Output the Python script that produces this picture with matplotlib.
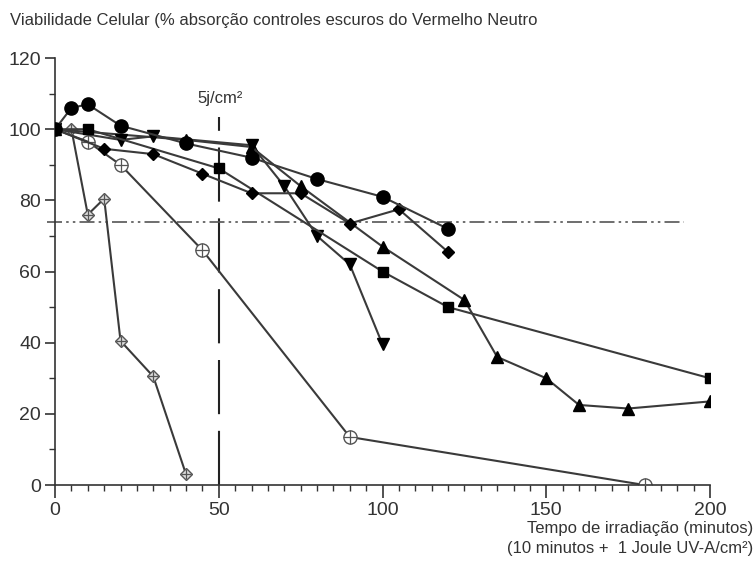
import matplotlib
matplotlib.use("Agg")
import matplotlib.pyplot as plt

plt.rcParams['font.family'] = ['Liberation Sans', 'DejaVu Sans']

# series (minutes, % viability)
circ_x = [0, 5, 10, 20, 40, 60, 80, 100, 120]
circ_y = [100, 106, 107, 101, 96, 92, 86, 81, 72]

sq_x = [0, 10, 50, 100, 120, 200]
sq_y = [100, 100, 89, 60, 50, 30]

tri_up_x = [0, 40, 60, 75, 100, 125, 135, 150, 160, 175, 200]
tri_up_y = [100, 97, 95, 84, 67, 52, 36, 30, 22.5, 21.5, 23.5]

tri_dn_x = [0, 20, 30, 60, 70, 80, 90, 100]
tri_dn_y = [100, 97, 98, 95.5, 84, 70, 62, 39.5]

dia_x = [0, 15, 30, 45, 60, 75, 90, 105, 120]
dia_y = [100, 94.5, 93, 87.5, 82, 82, 73.5, 77.5, 65.5]

ocirc_x = [0, 10, 20, 45, 90, 180]
ocirc_y = [100, 96.5, 90, 66, 13.5, 0]

odia_x = [5, 10, 15, 20, 30, 40]
odia_y = [100, 76, 80.5, 40.5, 30.5, 3]

dose_x = 50
limit_y = 74

line_c = '#3a3a3a'
txt_c = '#333333'

fig = plt.figure(figsize=(7.56, 5.75), dpi=100)
ax = fig.add_axes([0.0728, 0.1565, 0.8664, 0.7425])

# reference lines
ax.plot([dose_x, dose_x], [0, 103.5], color='#222222', lw=1.5, dashes=(26, 8), zorder=1)
ax.plot([-2.5, 192], [limit_y, limit_y], color='#555555', lw=1.2,
        dashes=(9, 2.5, 1.5, 2.5, 1.5, 2.5), clip_on=False, zorder=1)
ax.text(dose_x + 0.5, 108.5, '5j/cm²', ha='center', va='center', fontsize=12, color=txt_c)

# open symbols with a cross inside
ax.plot(ocirc_x[1:], ocirc_y[1:], color=line_c, lw=1.5, marker='o', ms=9.5,
        mfc='white', mec='#555555', mew=1.0, zorder=2)
ax.plot(ocirc_x[:2], ocirc_y[:2], color=line_c, lw=1.5, zorder=2)
ax.plot(ocirc_x[1:], ocirc_y[1:], ls='none', marker='+', ms=9.5, mec='#555555', mew=0.9, zorder=3)

ax.plot(odia_x, odia_y, color=line_c, lw=1.5, marker='D', ms=6.5,
        mfc='#dddddd', mec='#555555', mew=1.0, zorder=2)
ax.plot(odia_x, odia_y, ls='none', marker='+', ms=7, mec='#555555', mew=0.9, zorder=3)

# filled symbols
ax.plot(tri_up_x, tri_up_y, color=line_c, lw=1.5, marker='^', ms=8, mfc='black', mec='black', zorder=4)
ax.plot(tri_dn_x, tri_dn_y, color=line_c, lw=1.5, marker='v', ms=8, mfc='black', mec='black', zorder=4)
ax.plot(sq_x, sq_y, color=line_c, lw=1.5, marker='s', ms=6.5, mfc='black', mec='black', zorder=4)
ax.plot(dia_x, dia_y, color=line_c, lw=1.5, marker='D', ms=6.5, mfc='black', mec='black', zorder=4)
ax.plot(circ_x, circ_y, color=line_c, lw=1.5, marker='o', ms=9.5, mfc='black', mec='black', zorder=5)

ax.set_xlim(0, 200)
ax.set_ylim(0, 120)
ax.set_xticks([0, 50, 100, 150, 200])
ax.set_xticks(range(0, 201, 5), minor=True)
ax.set_yticks([0, 20, 40, 60, 80, 100, 120])
ax.set_yticks(range(0, 121, 10), minor=True)
for s in ['top', 'right']:
    ax.spines[s].set_visible(False)
for s in ['left', 'bottom']:
    ax.spines[s].set_linewidth(1.2)
    ax.spines[s].set_color(txt_c)
ax.tick_params(axis='both', which='major', direction='out', length=7, width=1.2,
               labelsize=14, colors=txt_c, pad=3)
ax.tick_params(axis='both', which='minor', direction='out', length=4, width=1.0, colors=txt_c)
ax.tick_params(axis='x', which='major', length=9)

fig.text(0.013, 0.965, 'Viabilidade Celular (% absorção controles escuros do Vermelho Neutro',
         ha='left', va='center', fontsize=12, color=txt_c)
fig.text(0.996, 0.080, 'Tempo de irradiação (minutos)', ha='right', va='center',
         fontsize=12, color=txt_c)
fig.text(0.996, 0.046, '(10 minutos +  1 Joule UV-A/cm²)', ha='right', va='center',
         fontsize=12, color=txt_c)

fig.savefig('out.png', dpi=100)
